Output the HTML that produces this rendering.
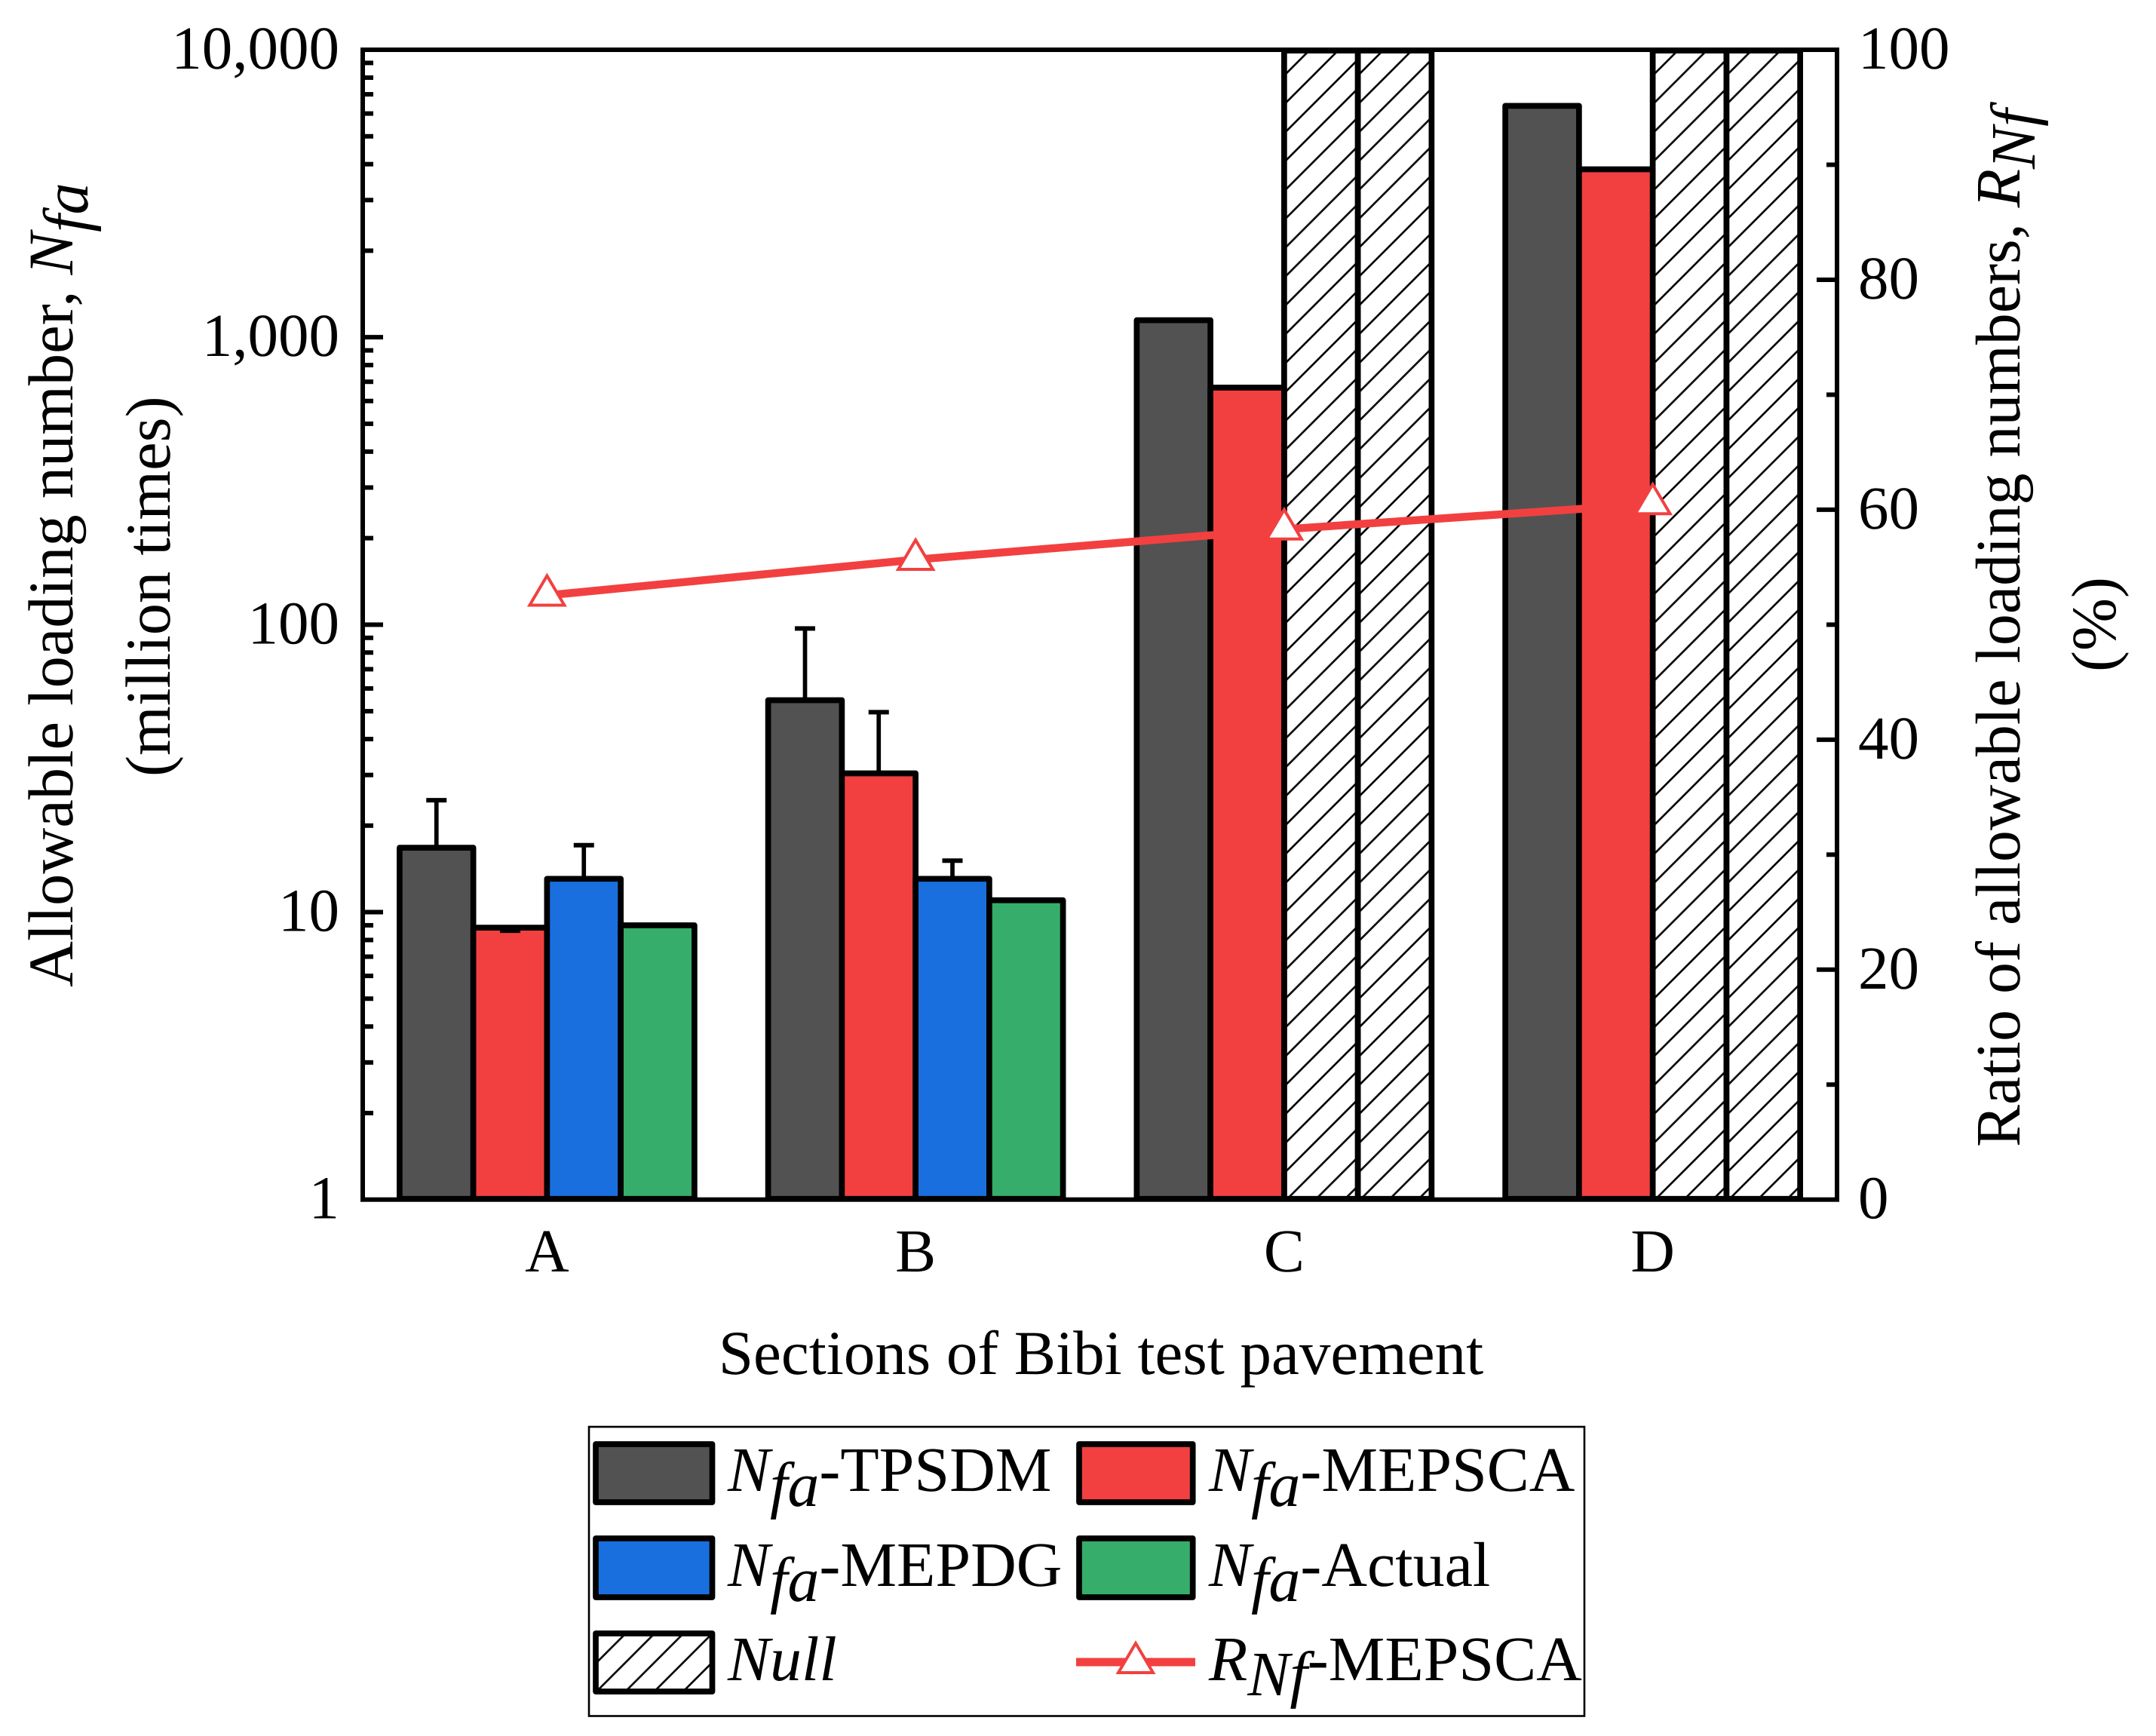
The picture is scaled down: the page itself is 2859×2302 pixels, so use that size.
<!DOCTYPE html>
<html lang="en">
<head>
<meta charset="utf-8">
<title>Allowable loading number by section</title>
<style>
html,body{margin:0;padding:0;background:#fff;width:2859px;height:2302px;overflow:hidden}
svg{display:block}
text{font-family:"Liberation Serif",serif;font-size:81px;fill:#000;text-rendering:geometricPrecision}
.i{font-style:italic}
.t{font-size:84.5px}
.l{font-size:84px}
</style>
</head>
<body>
<svg id="chart" xmlns="http://www.w3.org/2000/svg" width="2859" height="2302" viewBox="0 0 2859 2302">
  <defs>
    <pattern id="hatch" patternUnits="userSpaceOnUse" width="38.3" height="38.3">
      <path d="M-5 28.6L28.6 -5M18.6 43.3L43.3 18.6" stroke="#000" stroke-width="2.6" fill="none"/>
    </pattern>
  </defs>
  <rect width="2859" height="2302" fill="#fff"/>
  <g id="plot"></g>

  <text class="t" transform="translate(96,1309) rotate(-90)">Allowable loading number, <tspan class="i">N</tspan><tspan class="i" dy="20">fa</tspan></text>
  <text class="t" transform="translate(225,1030) rotate(-90)">(million times)</text>
  <text class="l" transform="translate(2678,1521) rotate(-90)">Ratio of allowable loading numbers, <tspan class="i">R</tspan><tspan class="i" dy="20">Nf</tspan></text>
  <text class="l" transform="translate(2805,828) rotate(-90)" text-anchor="middle">(%)</text>
  <text style="font-size:83px" x="1460" y="1822" text-anchor="middle">Sections of Bibi test pavement</text>

  <g>
    <rect x="781" y="1892" width="1320" height="383.5" fill="#fff" stroke="#000" stroke-width="2.6"/>

    <g>
      <rect x="790" y="1915" width="154.5" height="77" fill="#525252" stroke="#000" stroke-width="7.7" stroke-linejoin="round"/>
      <text class="l" x="965" y="1977"><tspan class="i">N</tspan><tspan class="i" dy="20">fa</tspan><tspan dy="-20">-TPSDM</tspan></text>
    </g>
    <g>
      <rect x="1431" y="1915" width="150.7" height="77" fill="#F24040" stroke="#000" stroke-width="7.7" stroke-linejoin="round"/>
      <text class="l" x="1603" y="1977"><tspan class="i">N</tspan><tspan class="i" dy="20">fa</tspan><tspan dy="-20">-MEPSCA</tspan></text>
    </g>
    <g>
      <rect x="790" y="2040" width="154.5" height="78" fill="#1A6FDF" stroke="#000" stroke-width="7.7" stroke-linejoin="round"/>
      <text class="l" x="965" y="2103"><tspan class="i">N</tspan><tspan class="i" dy="20">fa</tspan><tspan dy="-20">-MEPDG</tspan></text>
    </g>
    <g>
      <rect x="1431" y="2040" width="150.7" height="78" fill="#37AD6B" stroke="#000" stroke-width="7.7" stroke-linejoin="round"/>
      <text class="l" x="1603" y="2103"><tspan class="i">N</tspan><tspan class="i" dy="20">fa</tspan><tspan dy="-20">-Actual</tspan></text>
    </g>
    <g>
      <g transform="translate(790,37.3)">
        <rect x="0" y="2128.7" width="154.5" height="77" fill="url(#hatch)" stroke="#000" stroke-width="7.7" stroke-linejoin="round"/>
      </g>
      <text class="l i" x="965" y="2228">Null</text>
    </g>
    <g>
      <rect x="1427" y="2198.5" width="158" height="11" fill="#F24040"/>
      <path d="M1506 2179L1529 2218L1483 2218Z" fill="#fff" stroke="#F24040" stroke-width="4"/>
      <text class="l" x="1603" y="2228"><tspan class="i">R</tspan><tspan class="i" dy="20">Nf</tspan><tspan dy="-20">-MEPSCA</tspan></text>
    </g>
  </g>
</svg>

<script>
// Chart data
const sections = ['A', 'B', 'C', 'D'];
const tpsdm = [16.75, 54.6, 1146, 6380];
const mepsca = [8.83, 30.4, 668, 3838];
const mepdg = [13.06, 13.06, null, null];
const actual = [9.0, 11.0, null, null];
const tpsdmError = [24.5, 97, null, null];
const mepscaError = [8.62, 49.6, null, null];
const mepdgError = [17.1, 15.1, null, null];
const ratio = [52.55, 55.66, 58.3, 60.5];
const leftMajorTicks = [1, 10, 100, 1000, 10000];
const leftTickLabels = ['1', '10', '100', '1,000', '10,000'];
const leftMinorSteps = [2, 3, 4, 5, 6, 7, 8, 9];
const rightMajorTicks = [0, 20, 40, 60, 80, 100];
const rightMinorTicks = [10, 30, 50, 70, 90];
const nullTop = 10000;

const NS = 'http://www.w3.org/2000/svg';
const plot = document.getElementById('plot');
const L = 481, R = 2436, T = 66, B = 1590.7;
const COLORS = {tpsdm: '#525252', mepsca: '#F24040', mepdg: '#1A6FDF', actual: '#37AD6B'};

function xCat(i) { return L + (i + 0.5) * (R - L) / sections.length; }
function yLog(v) { return B - (Math.log10(v) / 4) * (B - T); }
function yRatio(v) { return B - (v / 100) * (B - T); }
const barW = (R - L) / sections.length * 0.2;

function make(tag, attrs, parent) {
  const el = document.createElementNS(NS, tag);
  for (const k in attrs) el.setAttribute(k, attrs[k]);
  (parent || plot).appendChild(el);
  return el;
}

// Bars
const seriesList = [
  {key: 'tpsdm', values: tpsdm, errors: tpsdmError},
  {key: 'mepsca', values: mepsca, errors: mepscaError},
  {key: 'mepdg', values: mepdg, errors: mepdgError},
  {key: 'actual', values: actual, errors: null}
];

seriesList.forEach(function (s, si) {
  sections.forEach(function (sec, ci) {
    const left = xCat(ci) + (si - 2) * barW;
    const v = s.values[ci];
    if (v === null) {
      const g = make('g', {transform: 'translate(' + left + ',0)'});
      
      
      const top = yLog(nullTop) + 1;
      const h = make('rect', {x: 0, y: top, width: barW, height: B - 1 - top, fill: 'url(#hatch)', stroke: '#000', 'stroke-width': 7.7, 'stroke-linejoin': 'round'}, g);
      
      
      return;
    }
    const e = s.errors ? s.errors[ci] : null;
    if (e !== null) {
      const cx = left + barW / 2;
      const line = make('line', {x1: cx, x2: cx, y1: yLog(v), y2: yLog(e), stroke: '#000', 'stroke-width': 5.7});
      
      
      const cap = make('line', {x1: cx - 13.5, x2: cx + 13.5, y1: yLog(e), y2: yLog(e), stroke: '#000', 'stroke-width': 6});
      
      
    }
  });
});

seriesList.forEach(function (s, si) {
  sections.forEach(function (sec, ci) {
    const v = s.values[ci];
    if (v === null) return;
    const left = xCat(ci) + (si - 2) * barW;
    const top = yLog(v);
    const r = make('rect', {x: left, y: top, width: barW, height: B - 1 - top, fill: COLORS[s.key], stroke: '#000', 'stroke-width': 7.7, 'stroke-linejoin': 'round'});
    
    
  });
});

// Small downward error of the section A MEPSCA bar sits on top of the fill
{
  const cx = xCat(0) - barW / 2;
  const cap = make('line', {x1: cx - 13.5, x2: cx + 13.5, y1: yLog(mepscaError[0]), y2: yLog(mepscaError[0]), stroke: '#000', 'stroke-width': 6});
  
  
}

// Left axis ticks
leftMajorTicks.forEach(function (v, i) {
  const y = yLog(v);
  if (v !== 1 && v !== 10000) {
    const t = make('line', {x1: L, x2: L + 27, y1: y, y2: y, stroke: '#000', 'stroke-width': 6});
    
    
  }
  const lab = make('text', {x: 450, y: y + 25, 'text-anchor': 'end'});
  lab.textContent = leftTickLabels[i];
  
  
  if (v < 10000) {
    leftMinorSteps.forEach(function (m) {
      const ym = yLog(v * m);
      const mt = make('line', {x1: L, x2: L + 14, y1: ym, y2: ym, stroke: '#000', 'stroke-width': 6});
      
      
    });
  }
});

// Right axis ticks
rightMajorTicks.forEach(function (v) {
  const y = yRatio(v);
  if (v !== 0 && v !== 100) {
    const t = make('line', {x1: R - 27, x2: R, y1: y, y2: y, stroke: '#000', 'stroke-width': 6});
    
    
  }
  const lab = make('text', {x: 2464, y: y + 25});
  lab.textContent = String(v);
  
  
});
rightMinorTicks.forEach(function (v) {
  const y = yRatio(v);
  const t = make('line', {x1: R - 14, x2: R, y1: y, y2: y, stroke: '#000', 'stroke-width': 6});
  
  
});

// Frame
const frame = make('rect', {x: L, y: T, width: R - L, height: B - T, fill: 'none', stroke: '#000', 'stroke-width': 6});



// Category labels
sections.forEach(function (sec, i) {
  const t = make('text', {x: xCat(i), y: 1686, 'text-anchor': 'middle'});
  t.textContent = sec;
  
  
});

// Ratio line and markers
const pts = ratio.map(function (v, i) { return xCat(i) + ',' + yRatio(v); }).join(' ');
const ratioLine = make('polyline', {points: pts, fill: 'none', stroke: '#F24040', 'stroke-width': 10.5});


ratio.forEach(function (v, i) {
  const x = xCat(i), y = yRatio(v);
  const m = make('path', {d: 'M' + x + ' ' + (y - 26) + 'L' + (x + 23) + ' ' + (y + 13) + 'L' + (x - 23) + ' ' + (y + 13) + 'Z', fill: '#fff', stroke: '#F24040', 'stroke-width': 4});
  
  
});
</script>
</body>
</html>
